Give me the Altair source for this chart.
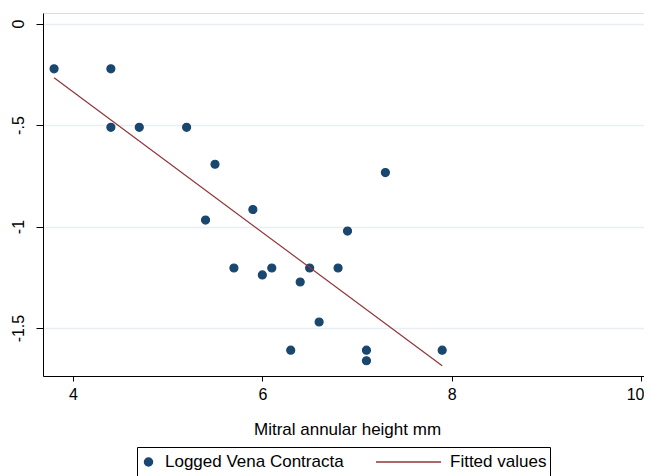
import altair as alt
import pandas as pd

# Data
mah_mm = [3.8, 4.4, 4.4, 4.7, 5.2, 5.5, 5.4, 5.9, 5.7, 6.0, 6.1,
          6.4, 6.5, 6.8, 6.9, 7.3, 6.6, 6.3, 7.1, 7.1, 7.9]
log_vc = [-0.223, -0.223, -0.511, -0.511, -0.511, -0.693, -0.968, -0.916,
          -1.204, -1.238, -1.204, -1.273, -1.204, -1.204, -1.022, -0.734,
          -1.470, -1.609, -1.609, -1.661, -1.609]
fit_x = [3.8, 7.9]
fit_y = [-0.267, -1.686]

series_names = ["Logged Vena Contracta", "Fitted values"]
series_colors = ["#1a476f", "#90353b"]
x_ticks = [4, 6, 8, 10]
y_ticks = [0, -0.5, -1, -1.5]

pts = pd.DataFrame({"x": mah_mm, "y": log_vc, "series": series_names[0]})
fit = pd.DataFrame({"x": fit_x, "y": fit_y, "series": series_names[1]})

FONT = "Liberation Sans"

xscale = alt.Scale(domain=[3.683, 10.032], nice=False, zero=False)
yscale = alt.Scale(domain=[-1.736, 0.052], nice=False, zero=False)

xaxis = alt.Axis(values=x_ticks, format="d", title="Mitral annular height mm", grid=False,
                 labelFontSize=16, titleFontSize=17, titleFontWeight="normal",
                 labelFont=FONT, titleFont=FONT, labelColor="#000", titleColor="#000",
                 domainColor="#000", tickColor="#000", tickSize=5, labelPadding=5,
                 titlePadding=19, labelFlush=5, labelFlushOffset=3, titleX=304)
yaxis = alt.Axis(values=y_ticks, title=None, grid=True, gridColor="#e8eff2", gridWidth=1.5,
                 labelFontSize=16, labelFont=FONT, labelColor="#000",
                 labelAngle=270, labelAlign="center", labelBaseline="bottom",
                 labelExpr="replace(toString(datum.value), '0.', '.')",
                 domainColor="#000", tickColor="#000", tickSize=7, labelPadding=10)

leg = alt.Legend(title=None, orient="none", legendX=94, legendY=434,
                 direction="horizontal", strokeColor="#000", padding=3,
                 labelFontSize=17, labelFont=FONT, labelColor="#000", labelLimit=0,
                 labelOffset=8, columnPadding=31, symbolOffset=0, clipHeight=24)

dom = series_names
points = alt.Chart(pts).mark_point(filled=True, opacity=1, strokeWidth=1.2).encode(
    x=alt.X("x:Q", scale=xscale, axis=xaxis),
    y=alt.Y("y:Q", scale=yscale, axis=yaxis),
    color=alt.Color("series:N", scale=alt.Scale(domain=dom, range=series_colors), legend=leg),
    stroke=alt.Stroke("series:N", scale=alt.Scale(domain=dom, range=series_colors), legend=leg),
    shape=alt.Shape("series:N", scale=alt.Scale(domain=dom, range=["circle", "stroke"]), legend=leg),
    size=alt.Size("series:N", scale=alt.Scale(type="ordinal", domain=dom, range=[64, 4225]), legend=leg),
)

line = alt.Chart(fit).mark_line(strokeWidth=1.2).encode(
    x=alt.X("x:Q", scale=xscale),
    y=alt.Y("y:Q", scale=yscale),
    color=alt.Color("series:N", scale=alt.Scale(domain=dom, range=series_colors), legend=leg),
)

chart = alt.layer(points, line).properties(
    width=601, height=363,
    autosize=alt.AutoSizeParams(type="none"),
    padding={"left": 35, "top": 5, "right": 0, "bottom": 100},
).configure_view(stroke=None).configure(background="white")

chart.save("out.html", embed_options={"renderer": "svg", "actions": False})
